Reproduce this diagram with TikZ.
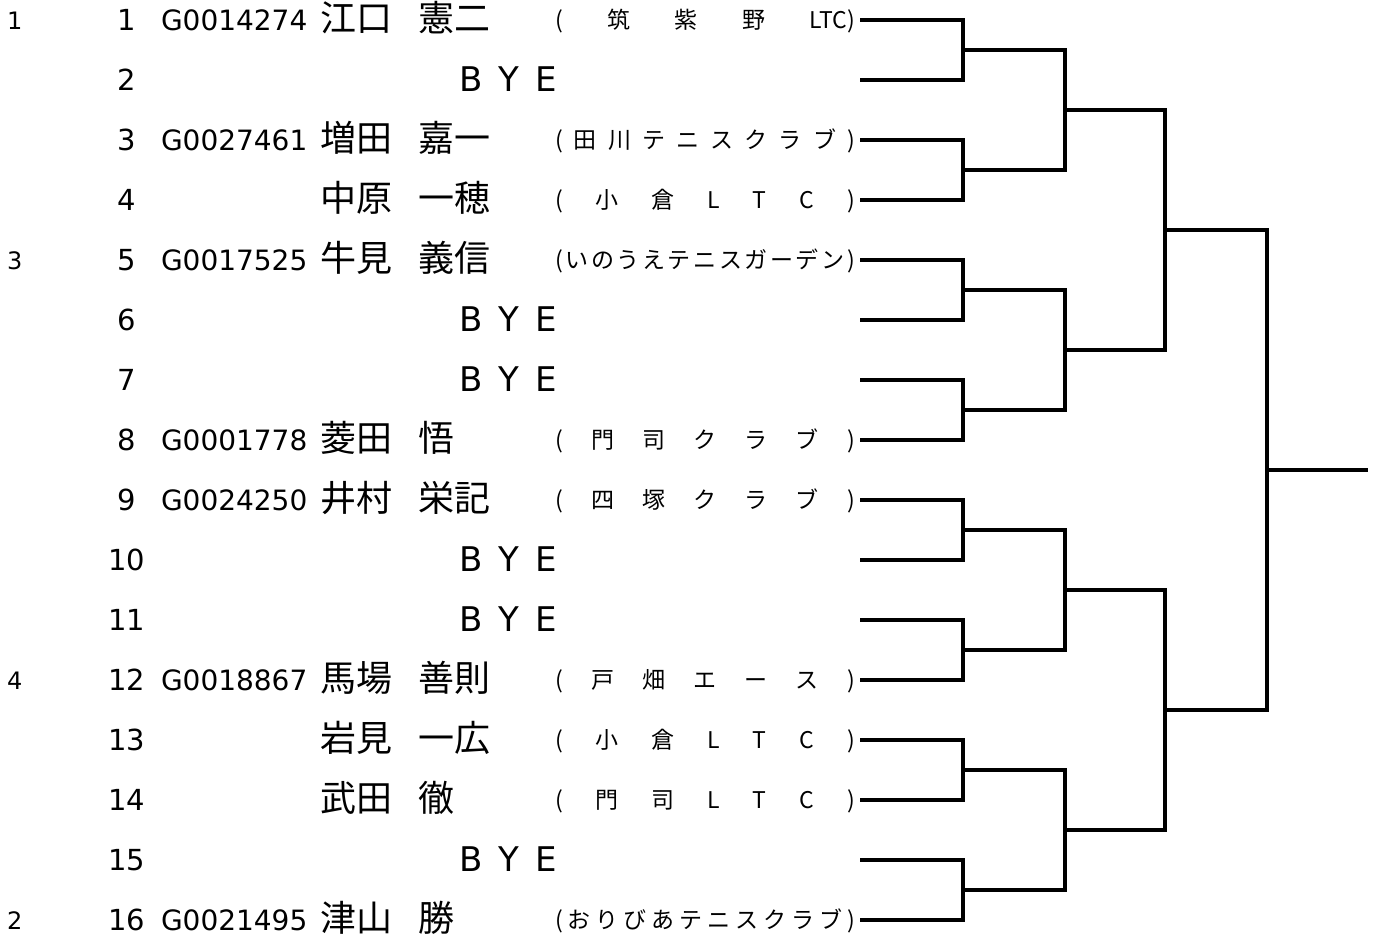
\documentclass[tikz,border=0pt]{standalone}
\usepackage{fontspec}
\setmainfont{DejaVu Sans}
\newfontfamily\jp{Noto Sans CJK JP}
\usetikzlibrary{calc}
% spread the club name over a fixed width
\newcommand*{\spr}[1]{\ifx\relax#1\else\hfill#1\expandafter\spr\fi}
\newcommand*{\clubfirst}[1]{#1\spr}
\newcommand*{\club}[1]{\hbox to 300pt{\clubfirst#1\relax}}
% row: number, id, surname, given name, club
\newcommand*{\entry}[5]{%
	\node[regno] (id#1) at (161,{60*#1-29.5}) {#2};
	\node[pname] (sn#1) at (320,{60*#1-29}) {#3};
	\node[pname] (gn#1) at (418,{60*#1-29}) {#4};
	\node[clubname] (cl#1) at (555,{60*#1-31.5}) {\club{#5}};
}
\newcommand*{\byerow}[1]{%
	\node[byetext] (bye#1) at (508,{60*#1-28.5}) {B\hspace{16pt}Y\hspace{16pt}E};
}
\tikzset{
	every node/.style={inner sep=0pt, outer sep=0pt, text depth=0pt},
	seedno/.style={anchor=base west, font=\fontsize{24}{24}\selectfont},
	drawno/.style={anchor=base, font=\fontsize{29}{29}\selectfont},
	regno/.style={anchor=base west, font=\fontsize{28}{28}\selectfont},
	pname/.style={anchor=base west, font=\jp\fontsize{36}{36}\selectfont},
	clubname/.style={anchor=base west, font=\jp\fontsize{23}{23}\selectfont},
	byetext/.style={anchor=base, font=\fontsize{34}{34}\selectfont},
	bracket/.style={line width=3.4pt, line join=miter},
}

\begin{document}
\begin{tikzpicture}[x=1pt, y=-1pt]
	\useasboundingbox (0,0) rectangle (1379,935);
	% seeds
	\node[seedno] (seed1) at (7,29) {1};
	\node[seedno] (seed3) at (7,269) {3};
	\node[seedno] (seed4) at (7,689) {4};
	\node[seedno] (seed2) at (7,929) {2};
	% draw numbers
	\foreach \i in {1,...,16}
		\node[drawno] (d\i) at (127,{60*\i-29.5}) {\i};
	% players
	\entry{1}{G0014274}{江口}{憲二}{(筑紫野{LTC)}}
	\byerow{2}
	\entry{3}{G0027461}{増田}{嘉一}{(田川テニスクラブ)}
	\entry{4}{}{中原}{一穂}{(小倉LTC)}
	\entry{5}{G0017525}{牛見}{義信}{(いのうえテニスガーデン)}
	\byerow{6}
	\byerow{7}
	\entry{8}{G0001778}{菱田}{悟}{(門司クラブ)}
	\entry{9}{G0024250}{井村}{栄記}{(四塚クラブ)}
	\byerow{10}
	\byerow{11}
	\entry{12}{G0018867}{馬場}{善則}{(戸畑エース)}
	\entry{13}{}{岩見}{一広}{(小倉LTC)}
	\entry{14}{}{武田}{徹}{(門司LTC)}
	\byerow{15}
	\entry{16}{G0021495}{津山}{勝}{(おりびあテニスクラブ)}
	% bracket
	\foreach \i in {1,...,16}
		\coordinate (e\i) at (860,{60*\i-40});
	\foreach \a/\b/\w in {e1/e2/a1, e3/e4/a2, e5/e6/a3, e7/e8/a4, e9/e10/a5, e11/e12/a6, e13/e14/a7, e15/e16/a8}{
		\draw[bracket] (\a) -- ++(103,0) |- (\b);
		\coordinate (\w) at ($(\a)!.5!(\b)+(103,0)$);
	}
	\foreach \a/\b/\w in {a1/a2/b1, a3/a4/b2, a5/a6/b3, a7/a8/b4}{
		\draw[bracket] (\a) -- ++(102,0) |- (\b);
		\coordinate (\w) at ($(\a)!.5!(\b)+(102,0)$);
	}
	\foreach \a/\b/\w in {b1/b2/c1, b3/b4/c2}{
		\draw[bracket] (\a) -- ++(100,0) |- (\b);
		\coordinate (\w) at ($(\a)!.5!(\b)+(100,0)$);
	}
	\draw[bracket] (c1) -- ++(102,0) |- (c2);
	\coordinate (f1) at ($(c1)!.5!(c2)+(102,0)$);
	\draw[bracket] (f1) -- ++(101,0);
\end{tikzpicture}
\end{document}
